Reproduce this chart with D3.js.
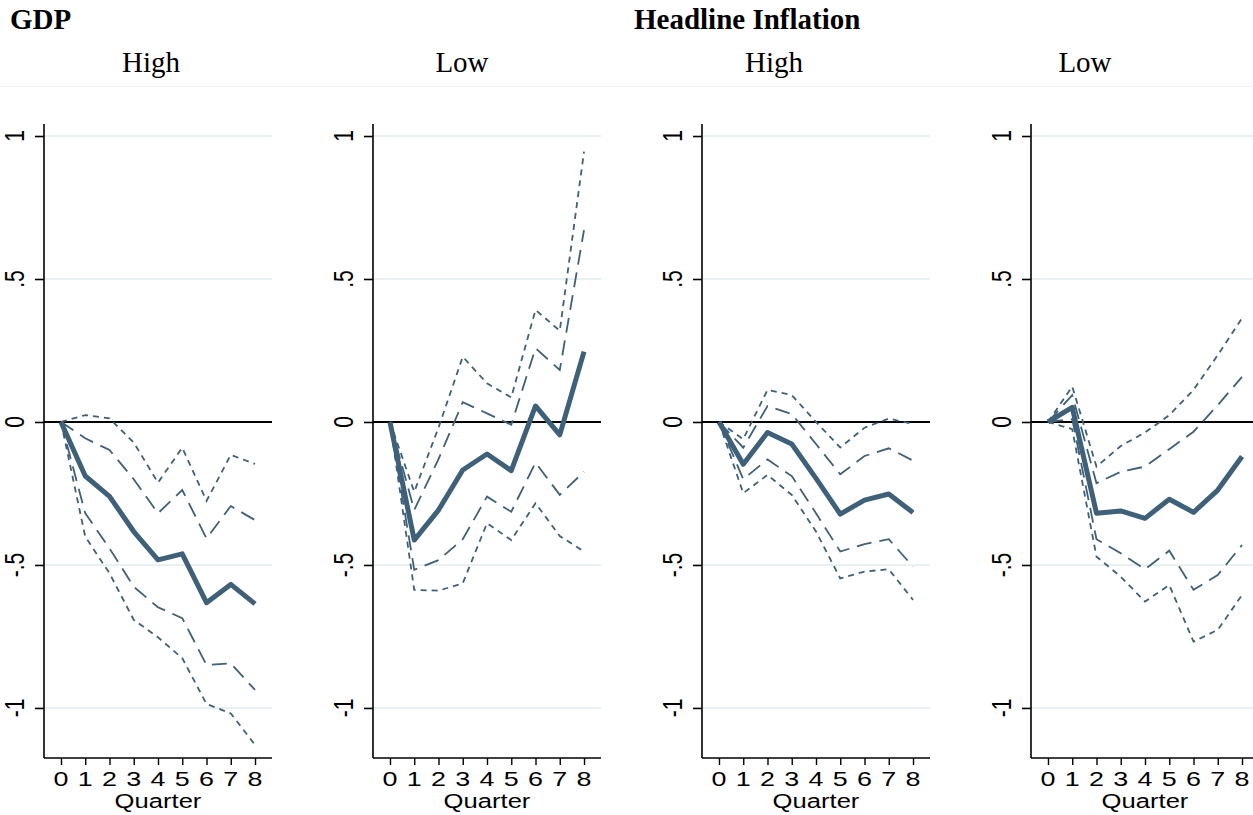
<!DOCTYPE html>
<html>
<head>
<meta charset="utf-8">
<script src="https://cdn.jsdelivr.net/npm/d3@7"></script>
<style>
  html, body { margin: 0; padding: 0; background: #ffffff; }
  svg { display: block; }
</style>
</head>
<body>
<script>
// Impulse responses over 9 quarters: point estimate with inner and outer bands
const quarters = [0, 1, 2, 3, 4, 5, 6, 7, 8];
const yTicks = [-1, -0.5, 0, 0.5, 1];
const yTickLabels = ["-1", "-.5", "0", ".5", "1"];

// GDP, high regime
const gdpHighIrf   = [0, -0.189, -0.260, -0.383, -0.482, -0.461, -0.632, -0.568, -0.636];
const gdpHighIn68U = [0, -0.057, -0.098, -0.200, -0.319, -0.238, -0.407, -0.294, -0.343];
const gdpHighIn68L = [0, -0.319, -0.442, -0.576, -0.648, -0.686, -0.850, -0.844, -0.937];
const gdpHighOut90U = [0, 0.024, 0.013, -0.072, -0.212, -0.090, -0.276, -0.115, -0.147];
const gdpHighOut90L = [0, -0.401, -0.529, -0.692, -0.753, -0.826, -0.986, -1.019, -1.129];

// GDP, low regime
const gdpLowIrf   = [0, -0.413, -0.308, -0.168, -0.112, -0.170, 0.056, -0.045, 0.246];
const gdpLowIn68U = [0, -0.308, -0.130, 0.069, 0.030, -0.010, 0.258, 0.182, 0.671];
const gdpLowIn68L = [0, -0.517, -0.483, -0.410, -0.261, -0.314, -0.142, -0.255, -0.174];
const gdpLowOut90U = [0, -0.244, -0.020, 0.228, 0.135, 0.086, 0.392, 0.319, 0.945];
const gdpLowOut90L = [0, -0.587, -0.590, -0.564, -0.354, -0.413, -0.284, -0.399, -0.453];

// Headline inflation, high regime
const infHighIrf   = [0, -0.148, -0.037, -0.077, -0.197, -0.322, -0.273, -0.252, -0.317];
const infHighIn68U = [0, -0.090, 0.056, 0.028, -0.077, -0.183, -0.119, -0.092, -0.135];
const infHighIn68L = [0, -0.200, -0.131, -0.189, -0.319, -0.453, -0.427, -0.410, -0.506];
const infHighOut90U = [0, -0.060, 0.112, 0.094, 0.000, -0.089, -0.020, 0.012, -0.007];
const infHighOut90L = [0, -0.249, -0.185, -0.255, -0.383, -0.547, -0.523, -0.515, -0.622];

// Headline inflation, low regime
const infLowIrf   = [0, 0.051, -0.319, -0.311, -0.337, -0.270, -0.316, -0.238, -0.121];
const infLowIn68U = [0, 0.094, -0.214, -0.174, -0.156, -0.095, -0.034, 0.059, 0.158];
const infLowIn68L = [0, 0.010, -0.410, -0.459, -0.515, -0.450, -0.587, -0.535, -0.430];
const infLowOut90U = [0, 0.124, -0.156, -0.084, -0.037, 0.024, 0.112, 0.234, 0.363];
const infLowOut90L = [0, -0.025, -0.471, -0.541, -0.628, -0.570, -0.768, -0.727, -0.605];

const panelTitles = ["High", "Low", "High", "Low"];
const groupTitles = ["GDP", "Headline Inflation"];

const panels = [
  { irf: gdpHighIrf, in68: [gdpHighIn68U, gdpHighIn68L], out90: [gdpHighOut90U, gdpHighOut90L] },
  { irf: gdpLowIrf,  in68: [gdpLowIn68U,  gdpLowIn68L],  out90: [gdpLowOut90U,  gdpLowOut90L] },
  { irf: infHighIrf, in68: [infHighIn68U, infHighIn68L], out90: [infHighOut90U, infHighOut90L] },
  { irf: infLowIrf,  in68: [infLowIn68U,  infLowIn68L],  out90: [infLowOut90U,  infLowOut90L] }
];

// ---- layout ----
const W = 1253, H = 815;
const lineColor = "#3e6078";
const gridColor = "#e9f0f2";
const axisX0 = 44, panelStep = 329, plotW = 228;
const plotTop = 124, plotBottom = 758;
const titleCenters = [151, 462, 774, 1085];
const groupTitleX = [10, 634];
const sansStretch = 1.28;

const svg = d3.select("body").append("svg")
  .attr("width", W).attr("height", H)
  .attr("viewBox", `0 0 ${W} ${H}`);

// Titles
svg.selectAll("text.group").data(groupTitles).join("text")
  .attr("class", "group")
  .attr("x", (d, i) => groupTitleX[i]).attr("y", 29)
  .attr("font-family", "'Liberation Serif', 'Times New Roman', serif")
  .attr("font-weight", "bold").attr("font-size", 29)
  .attr("fill", "#000").text(d => d);

svg.selectAll("text.sub").data(panelTitles).join("text")
  .attr("class", "sub")
  .attr("x", (d, i) => titleCenters[i]).attr("y", 72)
  .attr("text-anchor", "middle")
  .attr("font-family", "'Liberation Serif', 'Times New Roman', serif")
  .attr("font-size", 29).attr("fill", "#000").text(d => d);

// faint separator below the panel titles
svg.append("line")
  .attr("x1", 0).attr("x2", W).attr("y1", 86.5).attr("y2", 86.5)
  .attr("stroke", "#eef3f5").attr("stroke-width", 1.2);

const y = d3.scaleLinear().domain([-1.175, 1.042]).range([plotBottom, plotTop]);

panels.forEach((p, i) => {
  const ax = axisX0 + i * panelStep;
  const x = d3.scaleLinear().domain([-0.7, 8.7]).range([ax, ax + plotW]);
  const g = svg.append("g");

  // horizontal grid lines (all ticks except zero)
  g.selectAll("line.grid").data(yTicks.filter(t => t !== 0)).join("line")
    .attr("x1", ax).attr("x2", ax + plotW)
    .attr("y1", d => y(d)).attr("y2", d => y(d))
    .attr("stroke", gridColor).attr("stroke-width", 2);

  // zero reference line
  g.append("line")
    .attr("x1", ax).attr("x2", ax + plotW)
    .attr("y1", y(0)).attr("y2", y(0))
    .attr("stroke", "#000").attr("stroke-width", 2);

  const line = d3.line().x((d, k) => x(quarters[k])).y(d => y(d));

  // outer band, short dashes
  p.out90.forEach(s => {
    g.append("path").attr("d", line(s))
      .attr("fill", "none").attr("stroke", lineColor)
      .attr("stroke-width", 1.8).attr("stroke-dasharray", "6,5");
  });
  // inner band, long dashes
  p.in68.forEach(s => {
    g.append("path").attr("d", line(s))
      .attr("fill", "none").attr("stroke", lineColor)
      .attr("stroke-width", 1.8).attr("stroke-dasharray", "15,8");
  });
  // point estimate
  g.append("path").attr("d", line(p.irf))
    .attr("fill", "none").attr("stroke", lineColor)
    .attr("stroke-width", 5).attr("stroke-linejoin", "round");

  // y axis
  const yAxis = d3.axisLeft(y).tickValues(yTicks).tickSize(9).tickFormat("");
  const ya = g.append("g").attr("transform", `translate(${ax},0)`).call(yAxis);
  ya.select(".domain").attr("d", `M0,${plotTop}V${plotBottom}`)
    .attr("stroke", "#000").attr("stroke-width", 1.6);
  ya.selectAll(".tick line").attr("stroke", "#000").attr("stroke-width", 1.6);

  g.selectAll("text.ylab").data(yTicks).join("text")
    .attr("class", "ylab")
    .attr("transform", (d) => `translate(${ax - 20},${y(d)}) scale(${sansStretch},1) rotate(-90)`)
    .attr("text-anchor", "middle")
    .attr("font-family", "'Liberation Sans', Arial, sans-serif")
    .attr("font-size", 21).attr("fill", "#000")
    .text((d, k) => yTickLabels[k]);

  // x axis
  const xAxis = d3.axisBottom(x).tickValues(quarters).tickSize(7).tickFormat("");
  const xa = g.append("g").attr("transform", `translate(0,${plotBottom})`).call(xAxis);
  xa.select(".domain").attr("d", `M${ax},0H${ax + plotW}`)
    .attr("stroke", "#000").attr("stroke-width", 1.6);
  xa.selectAll(".tick line").attr("stroke", "#000").attr("stroke-width", 1.4);

  g.selectAll("text.xlab").data(quarters).join("text")
    .attr("class", "xlab")
    .attr("transform", d => `translate(${x(d)},786) scale(${sansStretch},1)`)
    .attr("text-anchor", "middle")
    .attr("font-family", "'Liberation Sans', Arial, sans-serif")
    .attr("font-size", 21).attr("fill", "#000")
    .text(d => d);

  g.append("text")
    .attr("transform", `translate(${x(4)},808) scale(1.22,1)`)
    .attr("text-anchor", "middle")
    .attr("font-family", "'Liberation Sans', Arial, sans-serif")
    .attr("font-size", 21).attr("fill", "#000")
    .text("Quarter");
});
</script>
</body>
</html>
